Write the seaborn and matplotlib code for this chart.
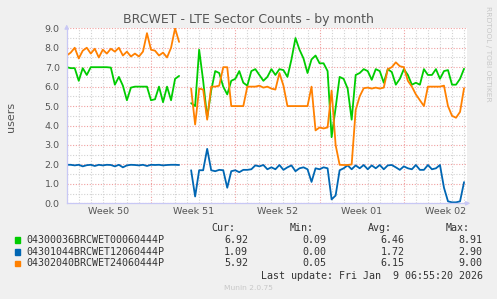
# Munin style chart: BRCWET LTE sector counts, monthly view
import numpy as np
import pandas as pd
import matplotlib
matplotlib.use("Agg")
import matplotlib.pyplot as plt
import matplotlib.dates as mdates
import matplotlib.transforms as mtransforms
from matplotlib.patches import Rectangle
from matplotlib.ticker import MultipleLocator, FormatStrFormatter, NullFormatter
import seaborn as sns

nan = np.nan

# one sample every 8 hours starting Monday Dec 8 2025
start = pd.Timestamp("2025-12-08 00:00")
n_samples = 100

green = [7.0, 6.95, 6.95, 6.3, 6.95, 6.6, 7.0, 7.0, 7.0, 7.0,
         7.0, 6.98, 6.1, 6.5, 6.05, 5.3, 5.95, 6.0, 6.0, 6.0,
         6.0, 5.3, 5.35, 6.0, 5.2, 6.0, 5.3, 6.4, 6.55, nan,
         nan, 5.15, 5.0, 7.9, 6.3, 4.4, 5.8, 6.8, 6.7, 6.0,
         5.6, 6.3, 6.4, 6.8, 6.2, 6.05, 6.8, 6.9, 6.6, 6.3,
         6.5, 6.9, 6.6, 6.9, 6.85, 6.5, 7.4, 8.5, 7.9, 7.45,
         6.7, 7.4, 7.6, 7.2, 7.2, 6.8, 3.4, 4.9, 6.5, 6.4,
         5.9, 4.3, 6.6, 6.7, 6.9, 6.8, 6.35, 6.9, 6.8, 6.2,
         6.9, 6.75, 6.1, 6.4, 6.9, 6.6, 6.1, 6.2, 6.1, 6.9,
         6.6, 6.6, 6.9, 6.4, 6.8, 6.85, 6.1, 6.1, 6.4, 6.92]

blue = [1.98, 1.98, 1.95, 1.98, 1.9, 1.96, 1.98, 1.92, 1.98, 1.95,
        1.98, 1.97, 1.9, 1.98, 1.85, 1.95, 1.98, 1.97, 1.95, 1.98,
        1.92, 1.98, 1.97, 1.98, 1.95, 1.97, 1.98, 1.98, 1.97, nan,
        nan, 1.7, 0.35, 1.7, 1.7, 2.8, 1.7, 1.65, 1.72, 1.7,
        0.8, 1.65, 1.7, 1.6, 1.72, 1.72, 1.75, 1.95, 1.9, 1.97,
        1.75, 1.85, 1.75, 1.97, 1.72, 1.85, 1.95, 1.65, 1.8, 1.85,
        1.75, 1.1, 1.8, 1.75, 1.85, 1.8, 0.2, 0.4, 1.7, 1.8,
        1.95, 1.75, 1.95, 1.8, 1.97, 1.75, 1.95, 1.8, 1.97, 1.75,
        1.95, 1.97, 1.85, 1.72, 1.9, 1.8, 1.75, 1.97, 1.72, 1.72,
        1.97, 1.75, 1.8, 1.97, 0.8, 0.1, 0.05, 0.05, 0.1, 1.09]

orange = [7.6, 7.75, 8.0, 7.45, 7.85, 8.0, 7.7, 7.95, 7.5, 7.9,
          7.7, 7.95, 7.8, 8.0, 7.6, 7.8, 7.55, 7.7, 7.55, 7.8,
          8.75, 7.9, 7.85, 7.6, 7.75, 7.5, 8.0, 9.0, 8.3, nan,
          nan, 5.9, 4.05, 5.9, 5.85, 4.3, 6.0, 6.0, 6.05, 7.0,
          7.0, 5.0, 5.0, 5.0, 5.0, 6.0, 6.0, 6.0, 6.05, 5.95,
          6.0, 5.9, 5.85, 6.7, 6.05, 5.0, 5.0, 5.0, 5.0, 5.0,
          5.0, 6.0, 3.75, 3.9, 3.85, 3.9, 5.8, 3.0, 1.98, 1.97,
          1.97, 2.0, 4.8, 5.5, 5.92, 5.95, 5.9, 5.95, 5.9, 5.95,
          6.9, 7.0, 7.25, 7.05, 7.0, 6.3, 6.0, 5.6, 5.3, 5.0,
          6.0, 6.0, 6.0, 6.0, 6.05, 5.0, 4.5, 4.4, 4.7, 5.92]

names = ["04300036BRCWET00060444P", "04301044BRCWET12060444P", "04302040BRCWET24060444P"]
colors = ["#00CC00", "#0066B3", "#FF8000"]
cur = ["6.92", "1.09", "5.92"]
mins = ["0.09", "0.00", "0.05"]
avgs = ["6.46", "1.72", "6.15"]
maxs = ["8.91", "2.90", "9.00"]
week_labels = ["Week 50", "Week 51", "Week 52", "Week 01", "Week 02"]

times = start + pd.to_timedelta(np.arange(n_samples) * 8, unit="h")

sns.set_style("white")
plt.rcParams["font.family"] = ["DejaVu Sans"]

W, H = 497, 299
fig = plt.figure(figsize=(W / 100, H / 100), dpi=100, facecolor="#F0F0F0")
ax = fig.add_axes([66.7 / W, 1 - 203.3 / H, 400 / W, 175 / H])
ax.set_facecolor("white")

for vals, c in zip([green, blue, orange], colors):
    d = pd.DataFrame({"time": times, "users": vals})
    d["seg"] = d["users"].isna().cumsum()
    d = d.dropna()
    sns.lineplot(data=d, x="time", y="users", units="seg", estimator=None,
                 color=c, lw=1.3, ax=ax, legend=False)

ax.set_xlim(start, start + pd.Timedelta(days=33.22))
ax.set_ylim(0, 9)
ax.set_xlabel("")
ax.set_ylabel("")

ax.xaxis.set_major_locator(mdates.WeekdayLocator(byweekday=mdates.MO))
ax.xaxis.set_minor_locator(mdates.DayLocator())
ax.xaxis.set_major_formatter(NullFormatter())
ax.yaxis.set_major_locator(MultipleLocator(1))
ax.yaxis.set_minor_locator(MultipleLocator(0.5))
ax.yaxis.set_major_formatter(FormatStrFormatter("%.1f"))

ax.set_axisbelow(True)
ax.grid(which="major", color="#F0A0A0", ls=(0, (1, 1.5)), lw=0.8)
ax.grid(which="minor", color="#D2D2D2", ls=(0, (1, 1.5)), lw=0.8)

axis_col = "#C8C8F5"
for s in ["top", "right"]:
    ax.spines[s].set_visible(False)
for s in ["left", "bottom"]:
    ax.spines[s].set_color(axis_col)
    ax.spines[s].set_linewidth(0.9)

ax.tick_params(axis="y", which="major", length=0, pad=5, labelsize=6.8, labelcolor="#555555")
ax.tick_params(axis="y", which="minor", length=0)
ax.tick_params(axis="x", which="major", length=2, color="#F0A0A0", direction="out")
ax.tick_params(axis="x", which="minor", length=1.5, color="#C8C8C8", direction="out")

# week labels centred on the middle of each week
trans = mtransforms.blended_transform_factory(ax.transData, ax.transAxes)
for i, lab in enumerate(week_labels):
    mid = mdates.date2num(start + pd.Timedelta(days=7 * i + 3.5))
    ax.annotate(lab, xy=(mid, 0), xycoords=trans, xytext=(0, -3),
                textcoords="offset points", ha="center", va="top",
                fontsize=6.8, color="#555555")

# axis arrows
ax.annotate("", xy=(0, 1.038), xytext=(0, 0.99), xycoords="axes fraction",
            arrowprops=dict(arrowstyle="-|>", color=axis_col, lw=0.9, mutation_scale=6))
ax.annotate("", xy=(1.016, 0), xytext=(0.99, 0), xycoords="axes fraction",
            arrowprops=dict(arrowstyle="-|>", color=axis_col, lw=0.9, mutation_scale=6))

fig.text(0.5, 1 - 19 / H, "BRCWET - LTE Sector Counts - by month", ha="center", va="center",
         fontsize=9, color="#555555")
fig.text(11 / W, 1 - 116.5 / H, "users", rotation=90, ha="center", va="center",
         fontsize=8, color="#555555")
fig.text(488 / W, 1 - 53.5 / H, "RRDTOOL / TOBI OETIKER", rotation=270, ha="center",
         va="center", fontsize=5.4, color="#C8C8C8")

# legend block
mono = dict(family="DejaVu Sans Mono", fontsize=7.2, color="#333333", va="center")
head_y = 227.7
for lab, xr in zip(["Cur:", "Min:", "Avg:", "Max:"], [235.3, 314, 392, 470]):
    fig.text(xr / W, 1 - head_y / H, lab, ha="right", **mono)
row_y = [240, 251.7, 263.3]
for i in range(3):
    y = row_y[i]
    fig.patches.append(Rectangle((14.5 / W, 1 - (y + 2.8) / H), 5.5 / W, 5.5 / H,
                                 transform=fig.transFigure, color=colors[i]))
    fig.text(26 / W, 1 - y / H, names[i], ha="left", **mono)
    for val, xr in zip([cur[i], mins[i], avgs[i], maxs[i]], [248, 326, 404.3, 482.7]):
        fig.text(xr / W, 1 - y / H, val, ha="right", **mono)
fig.text(482.7 / W, 1 - 275.7 / H, "Last update: Fri Jan  9 06:55:20 2026", ha="right", **mono)
fig.text(248 / W, 1 - 288 / H, "Munin 2.0.75", ha="center", va="center",
         fontsize=5.4, color="#C8C8C8")

fig.savefig("out.png", dpi=100, facecolor=fig.get_facecolor())
